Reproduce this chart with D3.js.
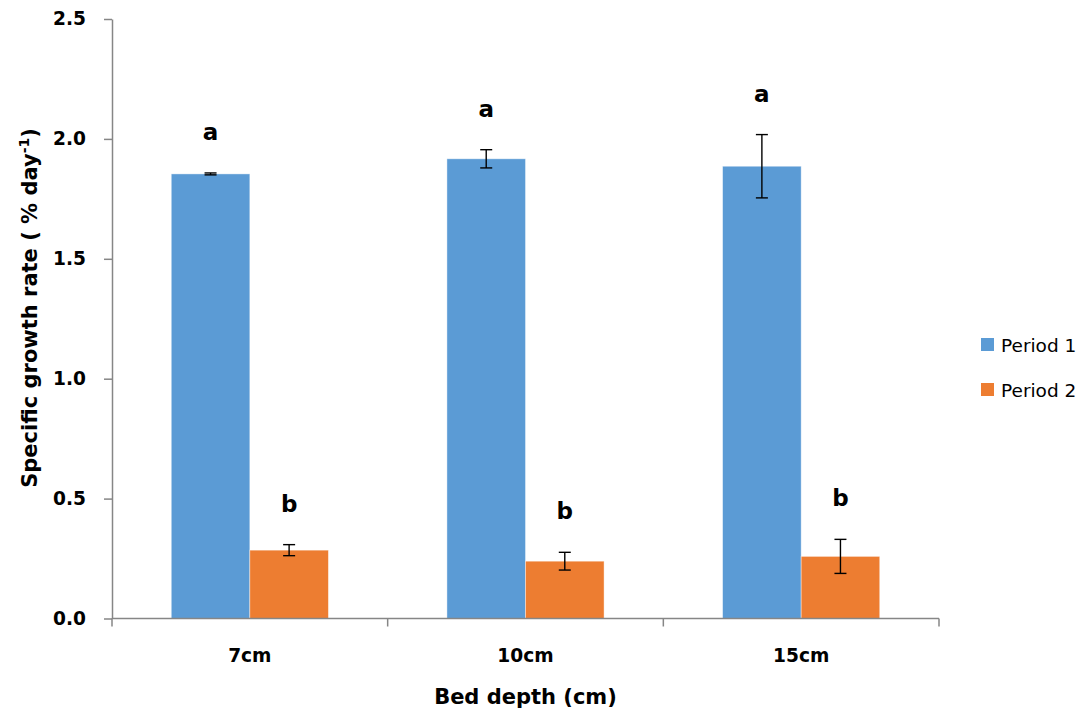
<!DOCTYPE html>
<html>
<head>
<meta charset="utf-8">
<script src="https://cdn.jsdelivr.net/npm/d3@7"></script>
<style>
  body { margin: 0; background: #fff; }
  svg { display: block; font-family: "DejaVu Sans", sans-serif; }
</style>
</head>
<body>
<svg id="chart" width="1091" height="715"></svg>
<script>
// Specific growth rate by bed depth, two periods (mean ± SE)
const categories = ["7cm", "10cm", "15cm"];
const seriesNames = ["Period 1", "Period 2"];
const period1 = [1.854, 1.917, 1.886];
const period1Err = [0.004, 0.038, 0.132];
const period2 = [0.285, 0.239, 0.259];
const period2Err = [0.023, 0.037, 0.071];
const period1Letters = ["a", "a", "a"];
const period2Letters = ["b", "b", "b"];
const yTicks = [0, 0.5, 1.0, 1.5, 2.0, 2.5];

const colors = ["#5B9BD5", "#ED7D31"];
const svg = d3.select("#chart");

const plot = { left: 112, right: 939, top: 19, bottom: 618.5 };

const x = d3.scaleBand()
  .domain(categories)
  .range([plot.left, plot.right])
  .paddingInner(0.43)
  .paddingOuter(0.215);

const xSub = d3.scaleBand()
  .domain(seriesNames)
  .range([0, x.bandwidth()]);

const y = d3.scaleLinear()
  .domain([0, 2.5])
  .range([plot.bottom, plot.top]);

const series = [
  { name: seriesNames[0], values: period1, errs: period1Err, letters: period1Letters, color: colors[0] },
  { name: seriesNames[1], values: period2, errs: period2Err, letters: period2Letters, color: colors[1] }
];

// Bars
series.forEach(s => {
  svg.append("g").selectAll("rect")
    .data(categories)
    .join("rect")
    .attr("x", (c) => x(c) + xSub(s.name))
    .attr("y", (c, i) => y(s.values[i]))
    .attr("width", xSub.bandwidth())
    .attr("height", (c, i) => y(0) - y(s.values[i]))
    .attr("fill", s.color)
    .attr("stroke", "#ffffff")
    .attr("stroke-opacity", 0.5)
    .attr("stroke-width", 0.8);
});

// Error bars
series.forEach(s => {
  const g = svg.append("g").attr("stroke", "#000").attr("stroke-width", 1.4);
  categories.forEach((c, i) => {
    const cx = x(c) + xSub(s.name) + xSub.bandwidth() / 2;
    const hi = y(s.values[i] + s.errs[i]);
    const lo = y(s.values[i] - s.errs[i]);
    g.append("line").attr("x1", cx).attr("x2", cx).attr("y1", hi).attr("y2", lo);
    g.append("line").attr("x1", cx - 6).attr("x2", cx + 6).attr("y1", hi).attr("y2", hi);
    g.append("line").attr("x1", cx - 6).attr("x2", cx + 6).attr("y1", lo).attr("y2", lo);
  });
});

// Significance letters above the error bars
series.forEach(s => {
  svg.append("g").selectAll("text")
    .data(categories)
    .join("text")
    .attr("x", (c) => x(c) + xSub(s.name) + xSub.bandwidth() / 2)
    .attr("y", (c, i) => y(s.values[i] + s.errs[i]) - 33)
    .attr("text-anchor", "middle")
    .attr("font-size", 23)
    .attr("font-weight", "bold")
    .attr("fill", "#000")
    .text((c, i) => s.letters[i]);
});

// Y axis
const yAxis = svg.append("g")
  .attr("transform", `translate(${plot.left},0)`)
  .call(d3.axisLeft(y).tickValues(yTicks).tickFormat(d3.format(".1f")).tickSize(8).tickSizeOuter(0));
yAxis.select(".domain").attr("stroke", "#868686").attr("stroke-width", 1.5);
yAxis.selectAll(".tick line").attr("stroke", "#868686").attr("stroke-width", 1.5);
yAxis.selectAll(".tick text")
  .attr("x", -26)
  .attr("font-size", 18.6)
  .attr("font-weight", "bold")
  .attr("fill", "#000")
  .attr("font-family", "'DejaVu Sans', sans-serif");

// X axis with boundary ticks between categories
const xAxisG = svg.append("g").attr("transform", `translate(0,${plot.bottom})`);
xAxisG.append("line")
  .attr("x1", plot.left).attr("x2", plot.right)
  .attr("stroke", "#868686").attr("stroke-width", 1.5);
const boundaries = categories.map(c => x(c) - x.step() * x.paddingInner() / 2)
  .concat([plot.right]);
xAxisG.selectAll(".bt")
  .data(boundaries)
  .join("line")
  .attr("x1", d => d).attr("x2", d => d)
  .attr("y1", 0).attr("y2", 8)
  .attr("stroke", "#868686").attr("stroke-width", 1.5);
xAxisG.selectAll(".cl")
  .data(categories)
  .join("text")
  .attr("x", c => x(c) + x.bandwidth() / 2)
  .attr("y", 43)
  .attr("text-anchor", "middle")
  .attr("font-size", 18.6)
  .attr("font-weight", "bold")
  .attr("fill", "#000")
  .text(c => c);

// Axis titles
svg.append("text")
  .attr("x", (plot.left + plot.right) / 2)
  .attr("y", 704)
  .attr("text-anchor", "middle")
  .attr("font-size", 21)
  .attr("font-weight", "bold")
  .text("Bed depth (cm)");

const yTitle = svg.append("text")
  .attr("transform", `translate(37,${308}) rotate(-90)`)
  .attr("text-anchor", "middle")
  .attr("font-size", 21)
  .attr("font-weight", "bold");
yTitle.append("tspan").text("Specific growth rate ( % day");
yTitle.append("tspan").attr("dy", -8).attr("font-size", 14).text("-1");
yTitle.append("tspan").attr("dy", 8).text(")");

// Legend
const legend = svg.append("g").attr("transform", "translate(981,338)");
series.forEach((s, i) => {
  const row = legend.append("g").attr("transform", `translate(0,${i * 45})`);
  row.append("rect").attr("width", 13).attr("height", 13).attr("fill", s.color);
  row.append("text")
    .attr("x", 20).attr("y", 14)
    .attr("font-size", 18.5)
    .attr("fill", "#000")
    .text(s.name);
});
</script>
</body>
</html>
